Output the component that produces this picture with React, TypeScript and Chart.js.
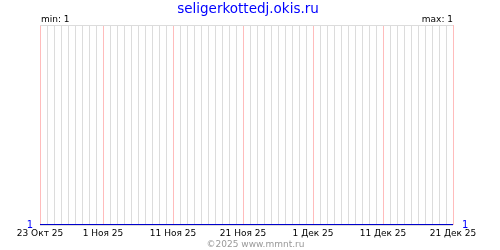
import React, { useEffect, useRef } from "react";
import { Chart, registerables } from "chart.js";

Chart.register(...registerables);

const siteTitle = "seligerkottedj.okis.ru";
const footerText = "©2025 www.mmnt.ru";
// day offsets since 23 Oct 25 (0 .. 59 = 21 Dec 25)
const firstDay = 0;
const lastDay = 59;
const labelDays = [0, 9, 19, 29, 39, 49, 59];
const labelTexts = ["23 Окт 25", "1 Ноя 25", "11 Ноя 25", "21 Ноя 25", "1 Дек 25", "11 Дек 25", "21 Дек 25"];
// daily values (all equal to 1)
const values = [
  1, 1, 1, 1, 1, 1, 1, 1, 1, 1,
  1, 1, 1, 1, 1, 1, 1, 1, 1, 1,
  1, 1, 1, 1, 1, 1, 1, 1, 1, 1,
  1, 1, 1, 1, 1, 1, 1, 1, 1, 1,
  1, 1, 1, 1, 1, 1, 1, 1, 1, 1,
  1, 1, 1, 1, 1, 1, 1, 1, 1, 1,
];
const minValue = 1;
const maxValue = 1;

const FONT = "'DejaVu Sans', Verdana, sans-serif";
const BLUE = "#0000ff";
const LINE_BLUE = "#0000cc";
const GRID_GRAY = "#dcdcdc";
const GRID_RED = "#ffbcbc";

const textPlugin = {
  id: "texts",
  afterDraw(chart: any) {
    const ctx = chart.ctx;
    const area = chart.chartArea;
    ctx.save();
    ctx.textBaseline = "alphabetic";
    ctx.fillStyle = BLUE;
    ctx.font = `13.5px ${FONT}`;
    ctx.textAlign = "center";
    ctx.fillText(siteTitle, 248, 13);
    ctx.fillStyle = "#000";
    ctx.font = `9px ${FONT}`;
    ctx.textAlign = "left";
    ctx.fillText(`min: ${minValue}`, area.left + 1, 22);
    ctx.textAlign = "right";
    ctx.fillText(`max: ${maxValue}`, area.right, 22);
    ctx.fillStyle = "#999999";
    ctx.textAlign = "center";
    ctx.fillText(footerText, 255.5, 247);
    ctx.restore();
  },
};

export default function App() {
  const ref = useRef<HTMLCanvasElement | null>(null);
  useEffect(() => {
    if (!ref.current) return;
    const points = values.map((v, i) => ({ x: firstDay + i, y: v }));
    const chart = new Chart(ref.current, {
      type: "line",
      data: {
        datasets: [
          {
            data: points,
            borderColor: LINE_BLUE,
            borderWidth: 2,
            pointRadius: 0,
            tension: 0,
            yAxisID: "y",
          },
        ],
      },
      options: {
        animation: false,
        responsive: false,
        events: [],
        layout: { padding: { top: 25, left: 0, right: 0, bottom: 0 } },
        plugins: { legend: { display: false }, tooltip: { enabled: false }, title: { display: false } },
        scales: {
          x: {
            type: "linear",
            min: firstDay,
            max: lastDay,
            afterBuildTicks: (scale: any) => {
              const t = [];
              for (let d = firstDay; d <= lastDay; d++) t.push({ value: d });
              scale.ticks = t;
            },
            afterFit: (scale: any) => {
              scale.height = 25;
            },
            border: { display: false },
            grid: {
              drawTicks: false,
              lineWidth: 1,
              color: (c: any) => (labelDays.includes(c.tick?.value) ? GRID_RED : GRID_GRAY),
            },
            ticks: {
              autoSkip: false,
              maxRotation: 0,
              minRotation: 0,
              padding: 3,
              color: "#000",
              font: { family: FONT, size: 9 },
              callback: (v: any) => {
                const i = labelDays.indexOf(Number(v));
                return i >= 0 ? labelTexts[i] : "";
              },
            },
          },
          y: {
            position: "left",
            min: minValue,
            max: minValue + 1,
            afterBuildTicks: (scale: any) => {
              scale.ticks = [{ value: minValue }, { value: minValue + 1 }];
            },
            afterFit: (scale: any) => {
              scale.width = 40;
            },
            border: { display: false },
            grid: { drawTicks: false, color: GRID_GRAY },
            ticks: {
              padding: 7,
              color: BLUE,
              font: { family: FONT, size: 10 },
              callback: (v: any) => (Number(v) === minValue ? String(minValue) : ""),
            },
          },
          y2: {
            position: "right",
            min: minValue,
            max: minValue + 1,
            afterBuildTicks: (scale: any) => {
              scale.ticks = [{ value: minValue }, { value: minValue + 1 }];
            },
            afterFit: (scale: any) => {
              scale.width = 47;
            },
            border: { display: false },
            grid: { display: false, drawTicks: false },
            ticks: {
              padding: 9,
              color: BLUE,
              font: { family: FONT, size: 10 },
              callback: (v: any) => (Number(v) === minValue ? String(maxValue) : ""),
            },
          },
        },
      },
      plugins: [textPlugin],
    } as any);
    return () => chart.destroy();
  }, []);
  return (
    <div style={{ position: "absolute", left: 0, top: 0, width: 500, height: 250, background: "#fff" }}>
      <canvas ref={ref} width={500} height={250} />
    </div>
  );
}
